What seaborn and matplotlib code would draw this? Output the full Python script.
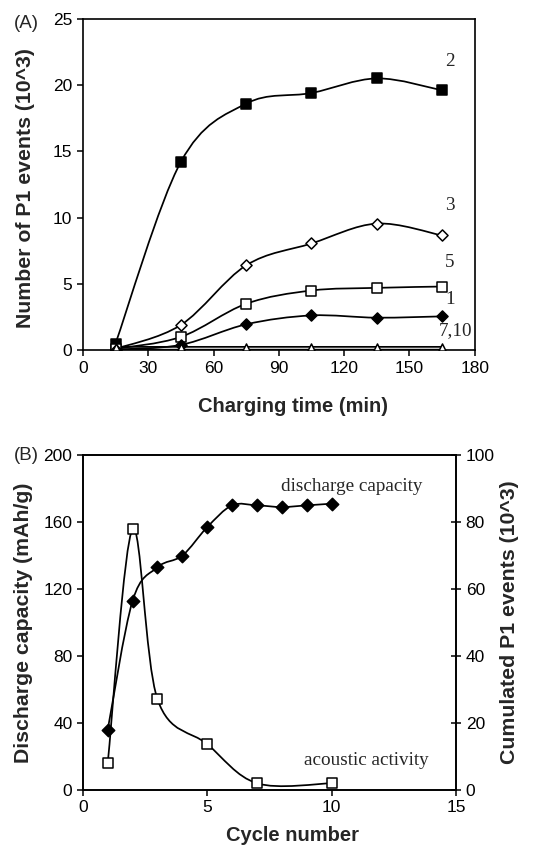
import numpy as np
import pandas as pd
import matplotlib
matplotlib.use("Agg")
import matplotlib.pyplot as plt
import seaborn as sns
from matplotlib.path import Path
from matplotlib.patches import PathPatch

# ---------------- data ----------------
time_min = [15, 45, 75, 105, 135, 165]
cycle2 = [0.5, 14.2, 18.6, 19.4, 20.5, 19.6]
cycle3 = [0.1, 1.9, 6.4, 8.05, 9.55, 8.65]
cycle5 = [0.1, 1.0, 3.5, 4.5, 4.7, 4.8]
cycle1 = [0.05, 0.4, 1.95, 2.62, 2.45, 2.55]
cycle7 = [0.25, 0.25, 0.25, 0.25, 0.25, 0.25]
cycle10 = [0.04, 0.04, 0.04, 0.04, 0.04, 0.04]
series_labels_a = ["2", "3", "5", "1", "7,10"]

cap_cycles = [1, 2, 3, 4, 5, 6, 7, 8, 9, 10]
capacity = [36, 113, 133, 140, 157, 170, 170, 169, 170, 171]
ae_cycles = [1, 2, 3, 5, 7, 10]
ae_events = [8.0, 77.9, 27.1, 13.7, 2.0, 2.0]

# ---------------- style ----------------
sns.set_style("ticks")
plt.rcParams["font.family"] = ["Liberation Sans", "DejaVu Sans"]
plt.rcParams["axes.linewidth"] = 1.2
plt.rcParams["xtick.major.width"] = 1.1
plt.rcParams["ytick.major.width"] = 1.1
plt.rcParams["xtick.major.size"] = 4
plt.rcParams["ytick.major.size"] = 4
plt.rcParams["xtick.color"] = "black"
plt.rcParams["ytick.color"] = "black"
plt.rcParams["axes.edgecolor"] = "black"

TICK_FS = 12.5
XLAB_FS = 14.5
YLAB_FS = 15.3
ANN_FS = 13.8
PANEL_FS = 13.5
SERIF = ["Liberation Serif", "DejaVu Serif"]


def smooth_curve(ax, xs, ys, lw=1.25, color="black", z=2):
    """Excel-like smoothed line drawn as cubic Bezier segments in data coords."""
    p = np.column_stack([np.asarray(xs, float), np.asarray(ys, float)])
    n = len(p)
    verts = [p[0]]
    codes = [Path.MOVETO]
    for i in range(n - 1):
        p0 = p[i - 1] if i > 0 else p[i]
        p1 = p[i]
        p2 = p[i + 1]
        p3 = p[i + 2] if i + 2 < n else p[i + 1]
        c1 = p1 + (p2 - p0) / 6.0
        c2 = p2 - (p3 - p1) / 6.0
        verts += [c1, c2, p2]
        codes += [Path.CURVE4] * 3
    patch = PathPatch(Path(verts, codes), fill=False, lw=lw, edgecolor=color,
                      transform=ax.transData, zorder=z)
    ax.add_patch(patch)


def markers(ax, xs, ys, marker, filled, s):
    df = pd.DataFrame({"x": xs, "y": ys})
    sns.scatterplot(data=df, x="x", y="y", ax=ax, marker=marker, s=s,
                    color="black" if filled else "white",
                    edgecolor="black", linewidth=1.1, zorder=5, legend=False)


fig = plt.figure(figsize=(5.56, 8.52), dpi=100)

# ---------------- panel A ----------------
axA = fig.add_axes([0.149, 0.589, 0.705, 0.389])
series_a = [
    (cycle2, "s", True, 58),
    (cycle3, "D", False, 32),
    (cycle5, "s", False, 50),
    (cycle1, "D", True, 32),
    (cycle10, None, False, 0),
    (cycle7, "^", False, 26),
]
for ys, m, f, s in series_a:
    smooth_curve(axA, time_min, ys)
    if m is not None:
        markers(axA, time_min, ys, m, f, s)

axA.set_xlim(0, 180)
axA.set_ylim(0, 25)
axA.set_xticks(np.arange(0, 181, 30))
axA.set_yticks(np.arange(0, 26, 5))
axA.tick_params(labelsize=TICK_FS, direction="out")
for sp in axA.spines.values():
    sp.set_visible(True)
axA.set_xlabel("Charging time (min)", fontsize=XLAB_FS, fontweight="bold")
axA.set_ylabel("Number of P1 events (10^3)", fontsize=YLAB_FS, fontweight="bold")
axA.xaxis.set_label_coords(0.536, -0.142)
axA.yaxis.set_label_coords(-0.122, 0.49)

ann_pos_a = [(168.5, 21.8), (168.5, 10.95), (168.5, 6.65), (168.5, 3.8), (171, 1.45)]
for lab, (x, y) in zip(series_labels_a, ann_pos_a):
    axA.text(x, y, lab, fontsize=ANN_FS, family=SERIF, ha="center", va="center")
fig.text(26 / 556, 1 - 24 / 852, "(A)", fontsize=PANEL_FS, ha="center", va="center")

# ---------------- panel B ----------------
axB = fig.add_axes([0.149, 0.0728, 0.671, 0.393])
smooth_curve(axB, cap_cycles, capacity)
markers(axB, cap_cycles, capacity, "D", True, 40)
axB.set_xlim(0, 15)
axB.set_ylim(0, 200)
axB.set_xticks([0, 5, 10, 15])
axB.set_yticks(np.arange(0, 201, 40))
axB.tick_params(labelsize=TICK_FS, direction="out")
for sp in axB.spines.values():
    sp.set_visible(True)
axB.set_xlabel("Cycle number", fontsize=XLAB_FS, fontweight="bold")
axB.set_ylabel("Discharge capacity (mAh/g)", fontsize=YLAB_FS, fontweight="bold")
axB.xaxis.set_label_coords(0.563, -0.108)
axB.yaxis.set_label_coords(-0.134, 0.5)

axB2 = axB.twinx()
smooth_curve(axB2, ae_cycles, ae_events)
markers(axB2, ae_cycles, ae_events, "s", False, 55)
axB2.set_ylim(0, 100)
axB2.set_yticks(np.arange(0, 101, 20))
axB2.tick_params(labelsize=TICK_FS, direction="inout", length=7)
axB2.set_ylabel("Cumulated P1 events (10^3)", fontsize=YLAB_FS, fontweight="bold",
                rotation=90)
axB2.yaxis.set_label_coords(1.118, 0.5)
axB2.yaxis.label.set_va("top")

axB.text(10.8, 181.5, "discharge capacity", fontsize=ANN_FS, family=SERIF,
         ha="center", va="center")
axB.text(11.4, 17.9, "acoustic activity", fontsize=ANN_FS, family=SERIF,
         ha="center", va="center")
fig.text(26 / 556, 1 - 455 / 852, "(B)", fontsize=PANEL_FS, ha="center", va="center")

fig.savefig("out.png", dpi=100)
